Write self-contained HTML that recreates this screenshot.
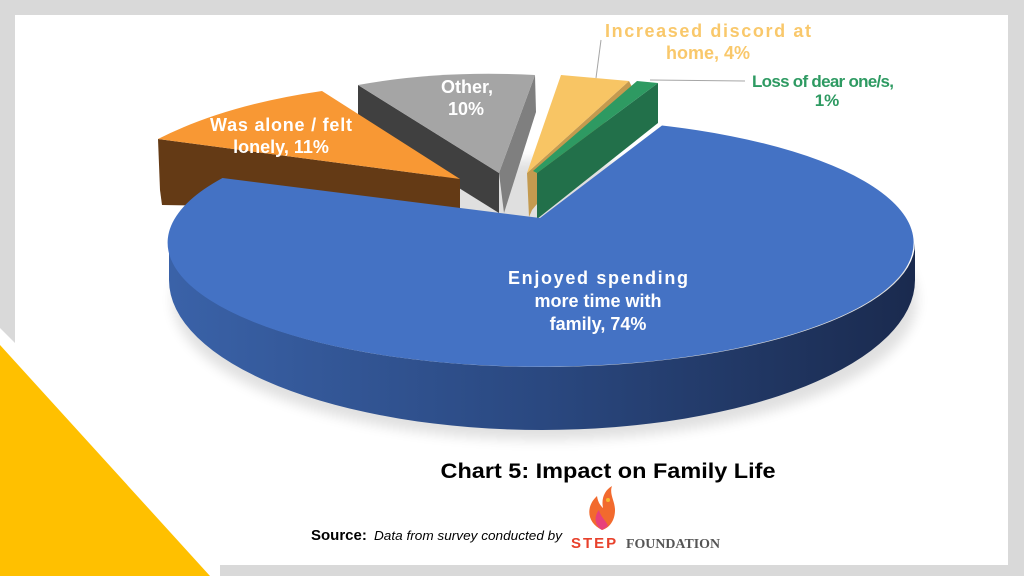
<!DOCTYPE html>
<html><head><meta charset="utf-8"><style>
html,body{margin:0;padding:0;width:1024px;height:576px;overflow:hidden;background:#d9d9d9}
svg{display:block}
</style></head><body>
<svg width="1024" height="576" viewBox="0 0 1024 576" xmlns="http://www.w3.org/2000/svg" font-family="'Liberation Sans',sans-serif">
<defs>
<linearGradient id="bs" x1="0" x2="1" y1="0" y2="0">
<stop offset="0" stop-color="#3a62a8"/><stop offset="0.5" stop-color="#2a4880"/><stop offset="1" stop-color="#1a2a4e"/>
</linearGradient>
<filter id="sh" x="-10%" y="-10%" width="120%" height="130%"><feGaussianBlur stdDeviation="6"/></filter>
</defs>
<rect x="15" y="15" width="993" height="550" fill="#fff"/>
<polygon points="0,328 15,343 15,565 220,565 220,576 0,576" fill="#fff"/>
<polygon points="0,345 0,576 210,576" fill="#ffc000"/>
<ellipse cx="545" cy="300" rx="372" ry="140" fill="#000" opacity="0.12" filter="url(#sh)"/>
<polygon points="358,85 499,173 499,213 358,125" fill="#404040"/>
<polygon points="535,75 536,112 504,213 499,173" fill="#7f7f7f"/>
<path d="M499,173 L358,85 Q440,70 535,75 Z" fill="#a5a5a5"/>
<polygon points="158,139 460,179 460,210 162,205 160,190" fill="#643a15"/>
<path d="M460,179 L158,139 Q225,105 322,91 Z" fill="#f89834"/>
<polygon points="629,81 633,89 532,210 529,217 527,173" fill="#c49a4f"/>
<polygon points="561,75 629,81 527,173" fill="#f8c564"/>
<polygon points="658,83 658,123 537,219 537,173" fill="#22704a"/>
<polygon points="637,81 658,83 537,173 533,171" fill="#2e9a62"/>
<path d="M169,243 A373,124 0 0 0 915,243 L915,280 A373,150 0 0 1 169,280 Z" fill="url(#bs)"/>
<path d="M540,218 L222.5,178 A373,124 0 1 0 662,125.5 Z" fill="#4472c4"/>
<g fill="#fff" font-weight="bold" font-size="18" text-anchor="middle">
<text x="598" y="284" textLength="180" lengthAdjust="spacing">Enjoyed spending</text>
<text x="598" y="307">more time with</text>
<text x="598" y="330">family, 74%</text>
<text x="281" y="131" textLength="142" lengthAdjust="spacing">Was alone / felt</text>
<text x="281" y="153">lonely, 11%</text>
<text x="467" y="93">Other,</text>
<text x="466" y="115">10%</text>
</g>
<line x1="596" y1="78" x2="601" y2="40" stroke="#a6a6a6" stroke-width="1"/>
<line x1="650" y1="80" x2="745" y2="81" stroke="#a6a6a6" stroke-width="1"/>
<g fill="#f9c86b" font-weight="bold" font-size="18" text-anchor="middle">
<text x="708" y="37" textLength="206" lengthAdjust="spacing">Increased discord at</text>
<text x="708" y="59">home, 4%</text>
</g>
<g fill="#2e9a62" font-weight="bold" font-size="17" text-anchor="middle">
<text x="823" y="87" textLength="142" lengthAdjust="spacing">Loss of dear one/s,</text>
<text x="827" y="106">1%</text>
</g>
<text x="608" y="478" font-weight="bold" font-size="21" text-anchor="middle" fill="#000" textLength="335" lengthAdjust="spacingAndGlyphs">Chart 5: Impact on Family Life</text>
<text x="311" y="540" font-size="15" font-weight="bold" fill="#000">Source:</text>
<text x="374" y="540" font-size="13" font-style="italic" fill="#000" textLength="188" lengthAdjust="spacingAndGlyphs">Data from survey conducted by</text>
<path d="M602,530 C586,522 586,506 597,496 C598,503 601,506 603,508 C601,498 605,490 612,486 C609,494 615,501 615,510 C615,521 609,528 602,530 Z" fill="#f26a2e"/>
<path d="M602,530 C594,525 594,516 599,510 C601,518 606,520 608,526 Z" fill="#e8407a"/>
<circle cx="608" cy="500" r="2" fill="#f7b731"/>
<text x="571" y="548" font-size="15" font-weight="bold" fill="#e8412c" letter-spacing="2">STEP</text>
<text x="626" y="548" font-size="14" font-weight="bold" font-family="'Liberation Serif',serif" fill="#555" textLength="94" lengthAdjust="spacingAndGlyphs">FOUNDATION</text>
</svg>
</body></html>
